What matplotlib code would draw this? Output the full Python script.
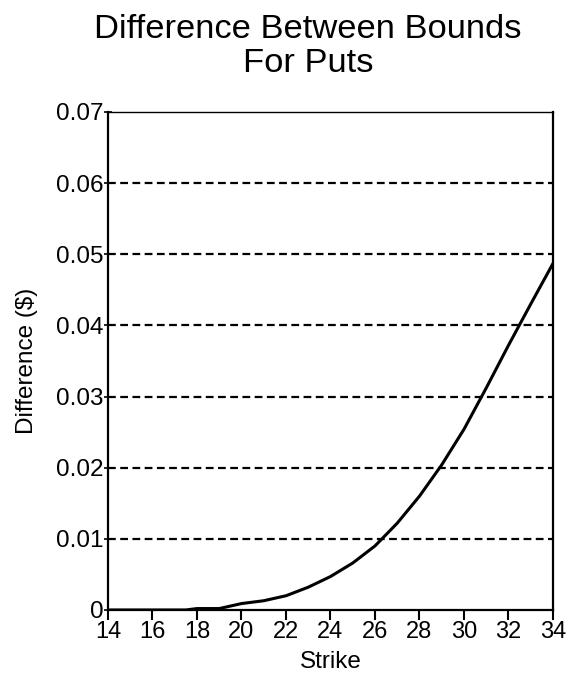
import matplotlib
matplotlib.use("Agg")
import matplotlib.pyplot as plt

# strike prices and difference between upper/lower put bounds ($)
strikes = [14, 15, 16, 17, 17.5, 18, 19, 20, 21, 22, 23, 24, 25, 26, 27, 28, 29, 30, 31, 32, 33, 34]
diff = [0, 0, 0, 0, 0, 0.0002, 0.0002, 0.0009, 0.0013, 0.002, 0.0032, 0.0047, 0.0066,
        0.009, 0.0122, 0.016, 0.0204, 0.0254, 0.0312, 0.0372, 0.043, 0.0487]
xticks = list(range(14, 35, 2))
yticks = [0, 0.01, 0.02, 0.03, 0.04, 0.05, 0.06, 0.07]
ytick_labels = ["0", "0.01", "0.02", "0.03", "0.04", "0.05", "0.06", "0.07"]

plt.rcParams.update({"font.family": ["Liberation Sans", "DejaVu Sans"]})
fig = plt.figure(figsize=(5.8, 6.77), dpi=100)
ax = fig.add_axes([0.1862, 0.099, 0.7672, 0.7356])

for y in yticks[1:-1]:
    ax.axhline(y, color="black", linestyle=(0, (3.5, 2.0)), linewidth=1.6, zorder=1)

ax.plot(strikes, diff, color="black", linewidth=2.2, zorder=3)

ax.set_xlim(14, 34)
ax.set_ylim(0, 0.07)
ax.set_xticks(xticks)
ax.set_yticks(yticks)
ax.set_yticklabels(ytick_labels)
ax.tick_params(axis="x", direction="out", length=7, width=1.5, labelsize=17, pad=1)
ax.tick_params(axis="y", direction="inout", length=6, width=1.2, labelsize=17.5, pad=0)
for s in ax.spines.values():
    s.set_linewidth(1.6)
ax.spines["top"].set_linewidth(1.0)

ax.set_xlabel("Strike", fontsize=17.5, labelpad=6)
ax.set_ylabel("Difference ($)", fontsize=17.5, labelpad=13)
fig.suptitle("Difference Between Bounds\nFor Puts", fontsize=24.8, x=0.531, y=0.979,
             linespacing=1.12)

fig.savefig("out.png", dpi=100, facecolor="white")
